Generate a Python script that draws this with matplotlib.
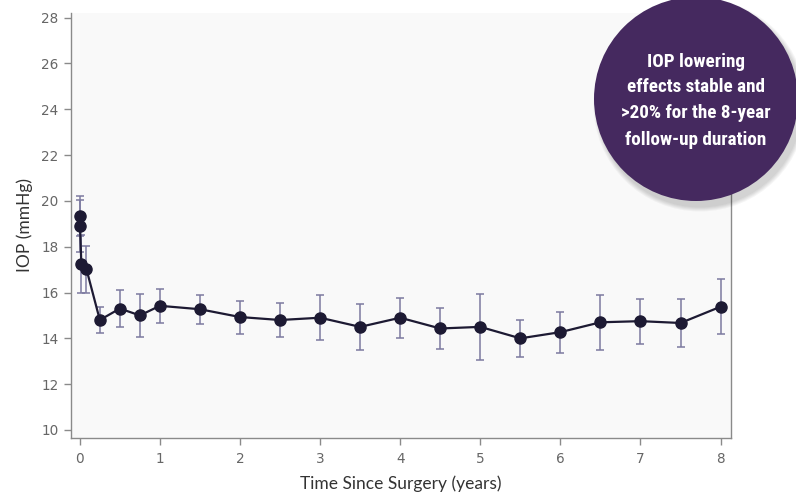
import matplotlib
matplotlib.use("Agg")
import matplotlib.pyplot as plt
from matplotlib.patches import Ellipse
import numpy as np

# ---- data ----
time_years = [0.0, 0.003, 0.019, 0.083, 0.25, 0.5, 0.75, 1.0, 1.5, 2.0, 2.5, 3.0,
              3.5, 4.0, 4.5, 5.0, 5.5, 6.0, 6.5, 7.0, 7.5, 8.0]
iop_mean = [19.33, 18.9, 17.25, 17.02, 14.8, 15.3, 15.0, 15.42, 15.27, 14.93, 14.8, 14.9,
            14.5, 14.9, 14.43, 14.5, 14.0, 14.27, 14.7, 14.75, 14.67, 15.38]
iop_sd = [0.87, 1.15, 1.25, 1.03, 0.58, 0.81, 0.93, 0.73, 0.63, 0.72, 0.75, 0.98,
          1.0, 0.88, 0.9, 1.43, 0.8, 0.89, 1.2, 0.98, 1.06, 1.19]
x_ticks = [0, 1, 2, 3, 4, 5, 6, 7, 8]
y_ticks = [10, 12, 14, 16, 18, 20, 22, 24, 26, 28]
callout_lines = ["IOP lowering", "effects stable and", ">20% for the 8-year", "follow-up duration"]

W, H = 796, 493
fig = plt.figure(figsize=(W / 100, H / 100), dpi=100)
fig.patch.set_facecolor("white")

ax = fig.add_axes([71 / W, 1 - 438 / H, (731 - 71) / W, (438 - 13) / H])
ax.set_facecolor("#f9f9f9")

line_col = "#1d1a33"
err_col = "#7c7aa0"

ax.errorbar(time_years, iop_mean, yerr=iop_sd, fmt="none", ecolor=err_col,
            elinewidth=1.1, capsize=3, capthick=1.1, zorder=2)
ax.plot(time_years, iop_mean, color=line_col, lw=1.6, marker="o", ms=8,
        markerfacecolor=line_col, markeredgecolor=line_col, zorder=3)

ax.set_xlim(-0.11, 8.13)
ax.set_ylim(9.65, 28.2)
ax.set_xticks(x_ticks)
ax.set_yticks(y_ticks)

ax.spines["top"].set_visible(False)
for s in ["left", "bottom", "right"]:
    ax.spines[s].set_color("#8a8a8a")
    ax.spines[s].set_linewidth(1.0)

ax.tick_params(axis="both", direction="out", length=5, width=1, color="#8a8a8a",
               labelcolor="#666666", labelsize=9.8, pad=4)
ax.tick_params(axis="x", pad=5)
for lab in ax.get_xticklabels() + ax.get_yticklabels():
    lab.set_family(["DejaVu Sans"])

label_family = ["Lato", "DejaVu Sans"]
ax.set_xlabel("Time Since Surgery (years)", fontsize=12.5, color="#333333",
              family=label_family, labelpad=7)
ax.set_ylabel("IOP (mmHg)", fontsize=12.5, color="#333333",
              family=label_family, labelpad=6)

# ---- callout circle with soft shadow ----
cx, cy, r = 696 / W, 1 - 99 / H, 102
for i in range(5):
    grow = 1 + i * 2
    sh = Ellipse((cx + 4 / W, cy - 6 / H), (2 * r + grow) / W, (2 * r + grow) / H,
                 transform=fig.transFigure, facecolor="#000000", alpha=0.035,
                 edgecolor="none", zorder=9)
    fig.add_artist(sh)
circ = Ellipse((cx, cy), 2 * r / W, 2 * r / H, transform=fig.transFigure,
               facecolor="#45295f", edgecolor="none", zorder=10)
fig.add_artist(circ)

line_y = [62, 87, 113, 140]
for txt, yy in zip(callout_lines, line_y):
    fig.text(cx, 1 - yy / H, txt, ha="center", va="center", color="white",
             fontsize=13.8, fontweight="bold",
             family=["Roboto Condensed", "Liberation Sans Narrow", "Roboto", "DejaVu Sans"],
             zorder=11)

fig.savefig("out.png", dpi=100, facecolor=fig.get_facecolor())
